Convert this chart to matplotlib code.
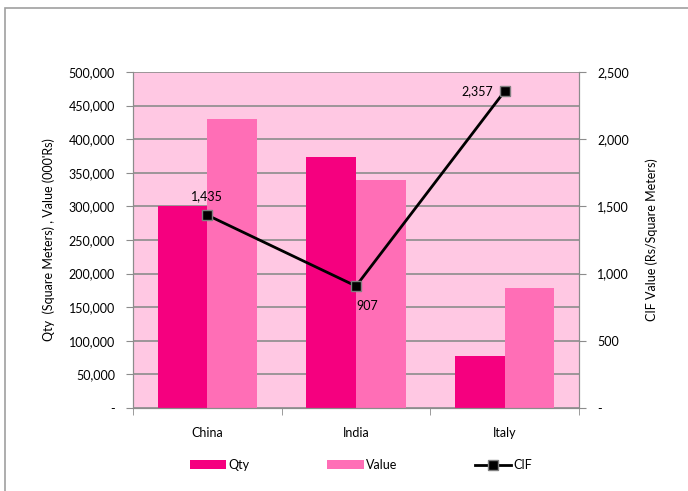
import matplotlib
matplotlib.use("Agg")
import matplotlib.pyplot as plt
from matplotlib.patches import Rectangle
from matplotlib.ticker import FuncFormatter
import numpy as np

countries = ["China", "India", "Italy"]
qty = [300000, 373000, 77000]
value = [430000, 339000, 178000]
cif = [1435, 907, 2357]

COLOR_QTY = "#F5007F"
COLOR_VAL = "#FF6EB6"
COLOR_BG = "#FFC8E3"
GRID = "#8C8C8C"

plt.rcParams["font.family"] = ["Lato", "DejaVu Sans"]
plt.rcParams["font.size"] = 9

fig = plt.figure(figsize=(6.88, 4.91), dpi=100)
fig.patches.append(Rectangle((5 / 688, -0.1), 1.1, 1 - 8 / 491 + 0.1,
                             transform=fig.transFigure, fill=False,
                             edgecolor="#A0A0A0", linewidth=1.2))

ax = fig.add_axes([133 / 688, 1 - 408 / 491, 446 / 688, 336 / 491])
ax.set_facecolor(COLOR_BG)

x = np.arange(len(countries))
w = 0.335
ax.bar(x - w / 2, qty, w, color=COLOR_QTY, label="Qty", zorder=2)
ax.bar(x + w / 2, value, w, color=COLOR_VAL, label="Value", zorder=2)
ax.set_xlim(-0.5, 2.5)
ax.set_ylim(0, 500000)
ax.set_yticks(np.arange(0, 500001, 50000))
ax.yaxis.set_major_formatter(FuncFormatter(lambda v, _: "-" if v == 0 else f"{int(v):,}"))
ax.grid(axis="y", color=GRID, linewidth=1.2, zorder=1)
ax.set_axisbelow(True)
ax.set_xticks(x)
ax.set_xticklabels(countries)
ax.set_xticks([-0.5, 0.5, 1.5, 2.5], minor=True)
ax.tick_params(axis="x", which="major", length=0, pad=14)
ax.tick_params(axis="x", which="minor", length=5, color=GRID)
ax.tick_params(axis="y", length=5, color=GRID, pad=8)
ax.set_ylabel("Qty  (Square Meters) , Value (000'Rs)", labelpad=10)
for s in ax.spines.values():
    s.set_color(GRID)
ax.spines["top"].set_visible(False)

ax2 = ax.twinx()
ax2.plot(x, cif, color="black", linewidth=2, marker="s", markersize=7,
         markerfacecolor="black", markeredgecolor="#808080", label="CIF", zorder=3)
ax2.set_ylim(0, 2500)
ax2.set_yticks(np.arange(0, 2501, 500))
ax2.yaxis.set_major_formatter(FuncFormatter(lambda v, _: "-" if v == 0 else f"{int(v):,}"))
ax2.tick_params(axis="y", length=5, color=GRID, pad=8)
ax2.set_ylabel("CIF Value (Rs/Square Meters)", labelpad=12)
for s in ax2.spines.values():
    s.set_color(GRID)
ax2.spines["top"].set_visible(False)

ax2.annotate(f"{cif[0]:,}", (x[0], cif[0]), xytext=(0, 9), textcoords="offset points",
             ha="center", va="bottom")
ax2.annotate(f"{cif[1]:,}", (x[1], cif[1]), xytext=(8, -10), textcoords="offset points",
             ha="center", va="top")
ax2.annotate(f"{cif[2]:,}", (x[2], cif[2]), xytext=(-8, 0), textcoords="offset points",
             ha="right", va="center")

h1, l1 = ax.get_legend_handles_labels()
h2, l2 = ax2.get_legend_handles_labels()
fig.legend(h1 + h2, l1 + l2, loc="center", bbox_to_anchor=(0.525, 1 - 465 / 491),
           ncol=3, frameon=False, columnspacing=6.2, handlelength=2.9,
           handletextpad=0.2)

fig.savefig("out.png", dpi=100)
